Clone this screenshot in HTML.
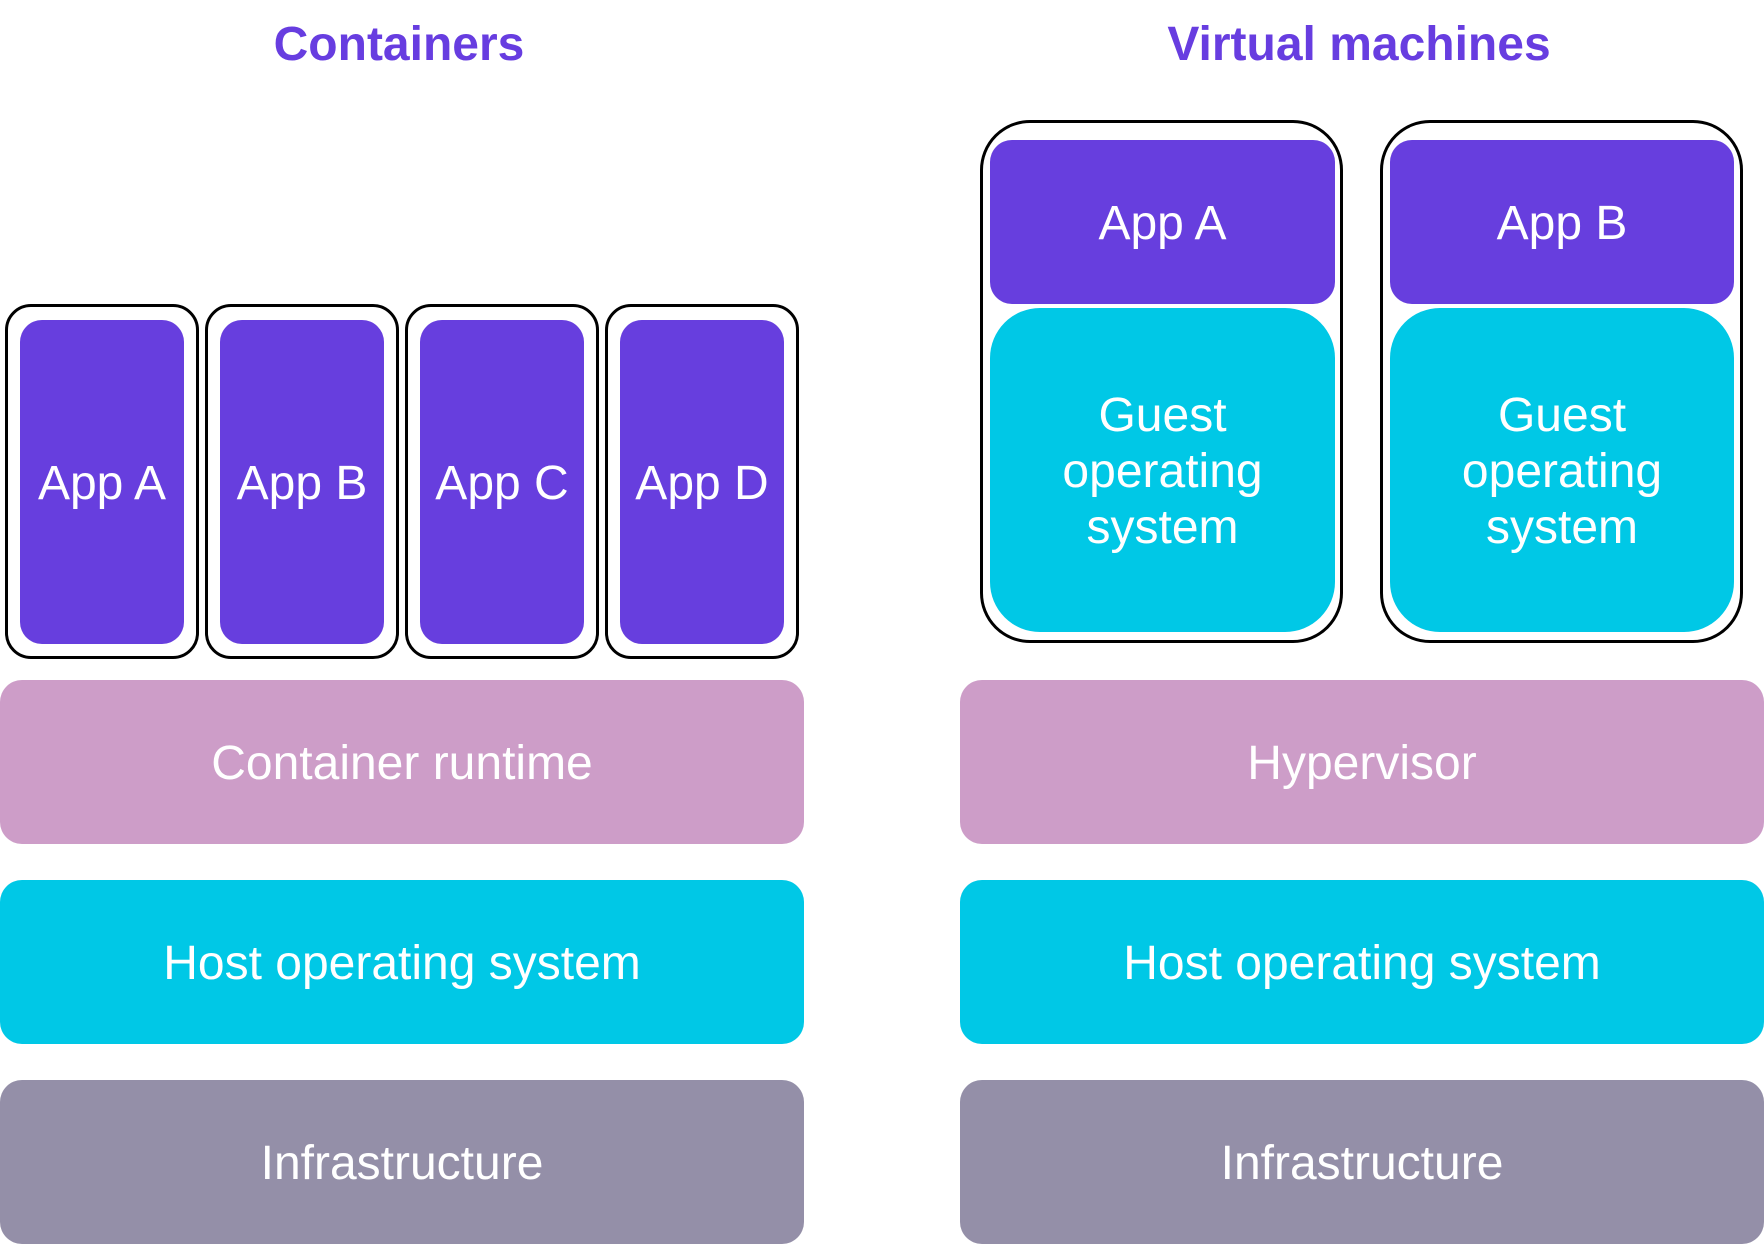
<!DOCTYPE html>
<html><head><meta charset="utf-8"><style>
html,body{margin:0;padding:0;background:#fff;}
body{width:1764px;height:1244px;position:relative;overflow:hidden;font-family:"Liberation Sans",Arial,sans-serif;}
.b{position:absolute;display:flex;align-items:center;justify-content:center;text-align:center;color:#fff;font-size:48px;line-height:56px;box-sizing:border-box;padding-top:4px;}
.o{position:absolute;border:3px solid #000;background:#fff;box-sizing:border-box;}
.t{position:absolute;top:17px;font-size:48px;font-weight:bold;color:#673de0;text-align:center;width:600px;}
.p{background:#673ede;}
.c{background:#00c8e6;}
.k{background:#cd9dc8;}
.g{background:#948fa8;}
</style></head><body>
<div class="t" style="left:99px">Containers</div>
<div class="t" style="left:1059px">Virtual machines</div>

<div class="o" style="left:5px;top:304px;width:194px;height:355px;border-radius:26px"></div>
<div class="o" style="left:205px;top:304px;width:194px;height:355px;border-radius:26px"></div>
<div class="o" style="left:405px;top:304px;width:194px;height:355px;border-radius:26px"></div>
<div class="o" style="left:605px;top:304px;width:194px;height:355px;border-radius:26px"></div>
<div class="b p" style="left:20px;top:320px;width:164px;height:324px;border-radius:22px">App A</div>
<div class="b p" style="left:220px;top:320px;width:164px;height:324px;border-radius:22px">App B</div>
<div class="b p" style="left:420px;top:320px;width:164px;height:324px;border-radius:22px">App C</div>
<div class="b p" style="left:620px;top:320px;width:164px;height:324px;border-radius:22px">App D</div>

<div class="b k" style="left:0;top:680px;width:804px;height:164px;border-radius:22px">Container runtime</div>
<div class="b c" style="left:0;top:880px;width:804px;height:164px;border-radius:22px">Host operating system</div>
<div class="b g" style="left:0;top:1080px;width:804px;height:164px;border-radius:22px">Infrastructure</div>

<div class="o" style="left:980px;top:120px;width:363px;height:523px;border-radius:50px"></div>
<div class="o" style="left:1380px;top:120px;width:363px;height:523px;border-radius:50px"></div>
<div class="b p" style="left:990px;top:140px;width:345px;height:164px;border-radius:22px">App A</div>
<div class="b p" style="left:1390px;top:140px;width:344px;height:164px;border-radius:22px">App B</div>
<div class="b c" style="left:990px;top:308px;width:345px;height:324px;border-radius:50px">Guest<br>operating<br>system</div>
<div class="b c" style="left:1390px;top:308px;width:344px;height:324px;border-radius:50px">Guest<br>operating<br>system</div>

<div class="b k" style="left:960px;top:680px;width:804px;height:164px;border-radius:22px">Hypervisor</div>
<div class="b c" style="left:960px;top:880px;width:804px;height:164px;border-radius:22px">Host operating system</div>
<div class="b g" style="left:960px;top:1080px;width:804px;height:164px;border-radius:22px">Infrastructure</div>
</body></html>
